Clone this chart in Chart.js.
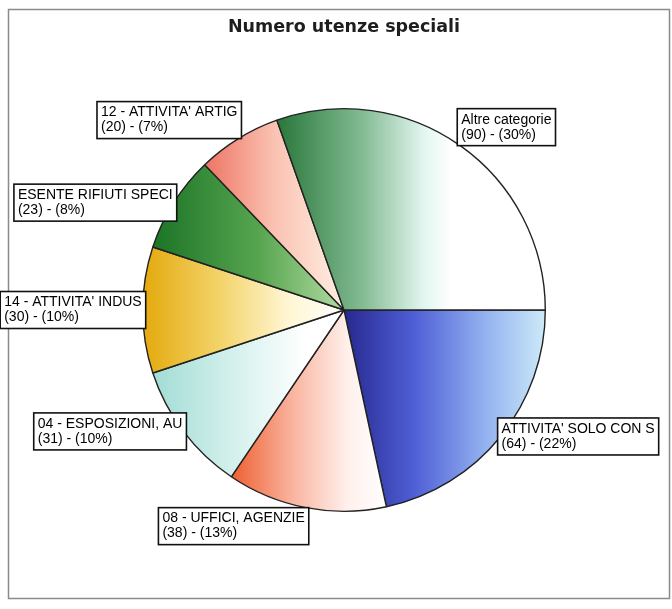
<!DOCTYPE html>
<html>
<head>
<meta charset="utf-8">
<script src="https://cdn.jsdelivr.net/npm/chart.js@4.4.1/dist/chart.umd.min.js"></script>
<style>
  html, body { margin: 0; padding: 0; background: #fff; }
  #wrap { width: 672px; height: 609px; }
</style>
</head>
<body>
<div id="wrap"><canvas id="myChart"></canvas></div>
<script>
// Dati del grafico
const titolo = "Numero utenze speciali";
const categorie = [
    "ATTIVITA' SOLO CON S",
    "08 - UFFICI, AGENZIE",
    "04 - ESPOSIZIONI, AU",
    "14 - ATTIVITA' INDUS",
    "ESENTE RIFIUTI SPECI",
    "12 - ATTIVITA' ARTIG",
    "Altre categorie"
];
const valori = [64, 38, 31, 30, 23, 20, 90];

// Sfumature orizzontali per ogni fetta (da sinistra a destra)
const sfumature = [
    [[0, "#27288f"], [0.35, "#4f5fd6"], [0.7, "#93b2f0"], [1, "#cdeaf8"]],
    [[0, "#ee5f32"], [0.4, "#f9b5a0"], [0.75, "#fff0ec"], [1, "#ffffff"]],
    [[0, "#a2dcd4"], [0.5, "#ddf4f1"], [0.8, "#ffffff"], [1, "#ffffff"]],
    [[0, "#e4a90c"], [0.4, "#f3d56e"], [0.72, "#fff6d2"], [1, "#ffffff"]],
    [[0, "#1b7427"], [0.55, "#56a44e"], [1, "#b2dca2"]],
    [[0, "#ee7464"], [0.5, "#fac2b2"], [1, "#fff0e2"]],
    [[0, "#28773a"], [0.32, "#84bb93"], [0.55, "#e4f6f1"], [0.65, "#ffffff"], [1, "#ffffff"]]
];

const totale = valori.reduce((a, b) => a + b, 0);

// Funzione che crea la sfumatura sull'estensione orizzontale della fetta
function sfumaturaFetta(context) {
    const chart = context.chart;
    const area = chart.chartArea;
    const i = context.dataIndex;
    if (!area) return sfumature[i][0][1];
    const cx = (area.left + area.right) / 2;
    const r = (Math.min(area.width, area.height) - 1) / 2;
    let a0 = 0;
    for (let j = 0; j < i; j++) a0 += valori[j] / totale * Math.PI * 2;
    const a1 = a0 + valori[i] / totale * Math.PI * 2;
    const xs = [cx, cx + r * Math.cos(a0), cx + r * Math.cos(a1)];
    if (a0 < Math.PI && a1 > Math.PI) xs.push(cx - r);
    const minX = Math.min(...xs);
    const maxX = Math.max(...xs);
    const grad = chart.ctx.createLinearGradient(minX, 0, maxX, 0);
    sfumature[i].forEach(s => grad.addColorStop(s[0], s[1]));
    return grad;
}

// Cornice esterna
const cornice = {
    id: "cornice",
    beforeDraw(chart) {
        const ctx = chart.ctx;
        ctx.save();
        ctx.fillStyle = "#ffffff";
        ctx.fillRect(0, 0, chart.width, chart.height);
        ctx.strokeStyle = "#8a8a8a";
        ctx.lineWidth = 1.5;
        ctx.strokeRect(8.5, 9.5, 661, 589);
        ctx.restore();
    }
};

// Etichette in riquadro sul bordo di ogni fetta
const etichette = {
    id: "etichette",
    afterDatasetsDraw(chart) {
        const ctx = chart.ctx;
        const meta = chart.getDatasetMeta(0);
        ctx.save();
        ctx.font = "14px 'Liberation Sans', Arial, sans-serif";
        ctx.textBaseline = "middle";
        ctx.textAlign = "left";
        meta.data.forEach((arc, i) => {
            const p = arc.getProps(["x", "y", "startAngle", "endAngle", "outerRadius"], true);
            const mid = (p.startAngle + p.endAngle) / 2;
            const px = p.x + Math.cos(mid) * p.outerRadius;
            const py = p.y + Math.sin(mid) * p.outerRadius;
            const pct = Math.round(valori[i] / totale * 100);
            const righe = [categorie[i], "(" + valori[i] + ") - (" + pct + "%)"];
            const w = Math.max(...righe.map(t => ctx.measureText(t).width)) + 8;
            const h = 37;
            let left = Math.cos(mid) >= 0 ? px - 3 : px + 3 - w;
            let top;
            const s = Math.sin(mid);
            if (s > 0.75) top = py;
            else if (s < -0.75) top = py - h;
            else top = py - h / 2;
            ctx.fillStyle = "#ffffff";
            ctx.fillRect(left, top, w, h);
            ctx.strokeStyle = "#111111";
            ctx.lineWidth = 1.6;
            ctx.strokeRect(left, top, w, h);
            ctx.fillStyle = "#000000";
            ctx.fillText(righe[0], left + 4, top + 11);
            ctx.fillText(righe[1], left + 4, top + 26);
        });
        ctx.restore();
    }
};

const config = {
    type: "pie",
    data: {
        labels: categorie,
        datasets: [{
            data: valori,
            backgroundColor: sfumaturaFetta,
            borderColor: "#222222",
            borderWidth: 1.4
        }]
    },
    options: {
        responsive: true,
        maintainAspectRatio: false,
        animation: false,
        events: [],
        rotation: 90,
        layout: { padding: { left: 142, right: 126, top: 0, bottom: 97 } },
        plugins: {
            legend: { display: false },
            tooltip: { enabled: false },
            title: {
                display: true,
                text: titolo,
                color: "#1e1e1e",
                font: { family: "'DejaVu Sans', Verdana, sans-serif", size: 17.5, weight: "bold" },
                padding: { top: 17, bottom: 70 }
            }
        }
    },
    plugins: [cornice, etichette]
};

const chartDOM = document.getElementById("myChart");
window.grafica = new Chart(chartDOM, config);
</script>
</body>
</html>
